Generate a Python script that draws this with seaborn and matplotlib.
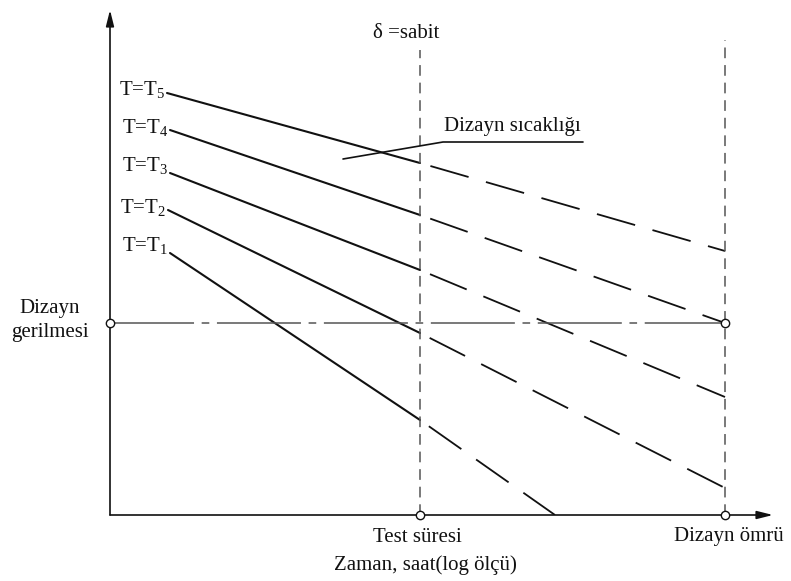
import matplotlib
matplotlib.use("Agg")
import matplotlib.pyplot as plt
import seaborn as sns
import pandas as pd

# ---- data (arbitrary units: x = log time, y = stress) ----
series = ["T=T$_5$", "T=T$_4$", "T=T$_3$", "T=T$_2$", "T=T$_1$"]
x_start = [0.57, 0.60, 0.60, 0.58, 0.60]
y_start = [4.22, 3.85, 3.42, 3.05, 2.62]
x_test = 3.10
y_test = [3.52, 3.00, 2.45, 1.82, 0.95]
x_end = [6.15, 6.15, 6.15, 6.15, 4.45]
y_end = [2.64, 1.92, 1.18, 0.27, 0.00]
x_design = 6.15
design_stress = 1.92
label_y = [4.25, 3.88, 3.50, 3.08, 2.70]

sns.set_theme(style="white")
plt.rcParams["font.family"] = ["Liberation Serif", "DejaVu Serif"]
plt.rcParams["mathtext.fontset"] = "custom"
plt.rcParams["mathtext.rm"] = "Liberation Serif"
plt.rcParams["mathtext.it"] = "Liberation Serif"

W, H = 791, 581
fig = plt.figure(figsize=(W / 100, H / 100), dpi=100)
ax = fig.add_axes([110 / W, (H - 515) / H, (773 - 110) / W, (515 - 10) / H])
ax.set_xlim(0, 6.63)
ax.set_ylim(0, 5.05)
ax.axis("off")

fs = 15
k = "#111111"
g = "#555555"

rows = []
for i, s in enumerate(series):
    rows.append(dict(s=s, part="solid", x=x_start[i], y=y_start[i]))
    rows.append(dict(s=s, part="solid", x=x_test, y=y_test[i]))
    rows.append(dict(s=s, part="dash", x=x_test, y=y_test[i]))
    rows.append(dict(s=s, part="dash", x=x_end[i], y=y_end[i]))
df = pd.DataFrame(rows)

for i, s in enumerate(series):
    d = df[(df.s == s) & (df.part == "solid")]
    sns.lineplot(data=d, x="x", y="y", ax=ax, color=k, lw=1.5, sort=False,
                 estimator=None, legend=False)
    d = df[(df.s == s) & (df.part == "dash")]
    sns.lineplot(data=d, x="x", y="y", ax=ax, color=k, lw=1.3, sort=False,
                 estimator=None, legend=False, linestyle=(26, (22, 10)))
    ax.text(x_start[i] - 0.02, label_y[i], s, ha="right", va="center",
            fontsize=fs, color=k)

# design stress dash-dot line
ax.plot([0, x_design], [design_stress, design_stress], color=g, lw=1.1,
        linestyle=(0, (55, 5, 5, 5)), zorder=2)

# vertical dashed lines
ax.plot([x_test, x_test], [0, 4.65], color=g, lw=1.1,
        linestyle=(0, (7, 4.5)))
ax.plot([x_design, x_design], [0, 4.75], color=g, lw=1.1,
        linestyle=(0, (7, 4.5)))

# axes with arrows
ax.annotate("", xy=(6.63, 0), xytext=(0, 0), annotation_clip=False,
            arrowprops=dict(arrowstyle="-|>,head_length=0.8,head_width=0.2",
                            color=k, lw=1.2, shrinkA=0, shrinkB=0))
ax.annotate("", xy=(0, 5.05), xytext=(0, 0), annotation_clip=False,
            arrowprops=dict(arrowstyle="-|>,head_length=0.8,head_width=0.2",
                            color=k, lw=1.2, shrinkA=0, shrinkB=0))

# circles
ax.plot([0, x_design, x_test, x_design], [design_stress, design_stress, 0, 0],
        "o", ms=6, mfc="white", mec=k, mew=1.0, clip_on=False, zorder=5)

# leader for design temperature
ax.plot([2.33, 3.33, 4.73], [3.56, 3.73, 3.73], color=k, lw=1.2)
ax.text(3.34, 3.79, "Dizayn sıcaklığı", ha="left", va="bottom", fontsize=fs,
        color=k)

ax.text(2.96, 4.82, "δ =sabit", ha="center", va="center", fontsize=fs,
        color=k)

# outer labels (figure coordinates from pixels)
def ftext(px, py, s, **kw):
    fig.text(px / W, 1 - py / H, s, fontsize=fs, color=k, **kw)

ftext(50, 308, "Dizayn", ha="center", va="center")
ftext(50, 333, "gerilmesi", ha="center", va="center")
ftext(417, 537, "Test süresi", ha="center", va="center")
ftext(425, 565, "Zaman, saat(log ölçü)", ha="center", va="center")
ftext(729, 537, "Dizayn ömrü", ha="center", va="center")

fig.savefig("out.png", dpi=100)
